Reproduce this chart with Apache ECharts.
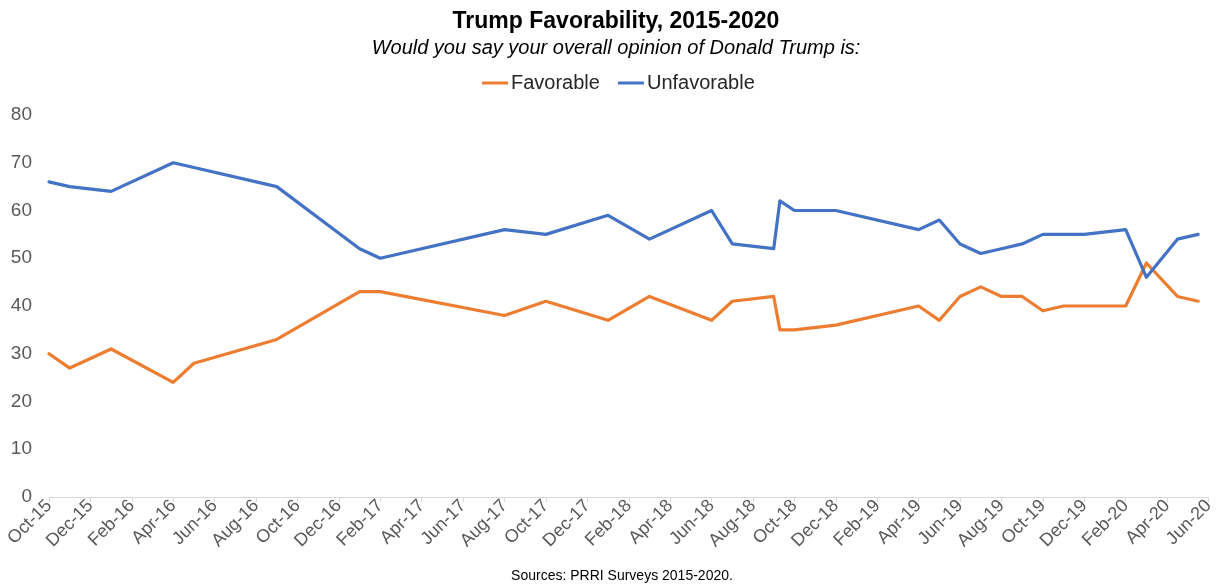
<!DOCTYPE html>
<html>
<head>
<meta charset="utf-8">
<title>Trump Favorability, 2015-2020</title>
<script src="https://cdn.jsdelivr.net/npm/echarts@6/dist/echarts.min.js"></script>
<style>
  html, body { margin: 0; padding: 0; background: #fff; }
  #chart { width: 1217px; height: 588px; }
</style>
</head>
<body>
<div id="chart"></div>
<script>
// Survey field dates and results (percent)
const surveyDates = [
  '2015-10-01', '2015-11-01', '2016-01-01', '2016-04-01', '2016-05-01', '2016-09-01',
  '2017-01-01', '2017-02-01', '2017-08-01', '2017-10-01', '2018-01-01', '2018-03-01',
  '2018-06-01', '2018-07-01', '2018-09-01', '2018-09-10', '2018-10-01', '2018-12-01',
  '2019-04-01', '2019-05-01', '2019-06-01', '2019-07-01', '2019-08-01', '2019-09-01',
  '2019-10-01', '2019-11-01', '2019-12-01', '2020-02-01', '2020-03-01', '2020-04-16',
  '2020-05-16'
];
const favorable = [
  30, 27, 31, 24, 28, 33,
  43, 43, 38, 41, 37, 42,
  37, 41, 42, 35, 35, 36,
  40, 37, 42, 44, 42, 42,
  39, 40, 40, 40, 49, 42,
  41
];
const unfavorable = [
  66, 65, 64, 70, 69, 65,
  52, 50, 56, 55, 59, 54,
  60, 53, 52, 62, 60, 60,
  56, 58, 53, 51, 52, 53,
  55, 55, 55, 56, 46, 54,
  55
];
const monthNames = ['Jan', 'Feb', 'Mar', 'Apr', 'May', 'Jun', 'Jul', 'Aug', 'Sep', 'Oct', 'Nov', 'Dec'];
const axisStart = { year: 2015, month: 9 };   // Oct-15
const axisMonths = 56;                          // through Jun-20

// Months elapsed since the start of the axis
function monthIndex(dateStr) {
  const [y, m, d] = dateStr.split('-').map(Number);
  return (y - axisStart.year) * 12 + (m - 1 - axisStart.month) + (d - 1) / 30;
}
function monthLabel(v) {
  const total = axisStart.year * 12 + axisStart.month + Math.round(v);
  return monthNames[total % 12] + '-' + String(Math.floor(total / 12)).slice(2);
}

const xs = surveyDates.map(monthIndex);
const favData = xs.map((x, i) => [x, favorable[i]]);
const unfavData = xs.map((x, i) => [x, unfavorable[i]]);

const font = 'Liberation Sans, Arial, Helvetica, sans-serif';
const chart = echarts.init(document.getElementById('chart'), null, { renderer: 'canvas' });
chart.setOption({
  animation: false,
  textStyle: { fontFamily: font },
  title: [{
    text: 'Trump Favorability, 2015-2020',
    subtext: 'Would you say your overall opinion of Donald Trump is:',
    left: 611,
    textAlign: 'center',
    top: 5,
    itemGap: 5,
    textStyle: { fontFamily: font, fontSize: 23, fontWeight: 'bold', color: '#000' },
    subtextStyle: { fontFamily: font, fontSize: 20, fontStyle: 'italic', color: '#000' }
  }, {
    text: 'Sources: PRRI Surveys 2015-2020.',
    left: 617,
    textAlign: 'center',
    bottom: 0,
    textStyle: { fontFamily: font, fontSize: 14, fontWeight: 'normal', color: '#000' }
  }],
  legend: {
    top: 68,
    left: 477,
    icon: 'rect',
    itemWidth: 26,
    itemHeight: 3,
    itemGap: 18,
    textStyle: { fontFamily: font, fontSize: 20, color: '#262626', padding: [0, 0, 0, -2] },
    data: ['Favorable', 'Unfavorable']
  },
  grid: { left: 49, right: 6, top: 115, bottom: 91, containLabel: false },
  xAxis: {
    type: 'value',
    min: 0,
    max: axisMonths,
    interval: 2,
    axisLine: { show: true, lineStyle: { color: '#d9d9d9', width: 1 } },
    axisTick: { show: true, length: 5, lineStyle: { color: '#d9d9d9' } },
    splitLine: { show: false },
    axisLabel: {
      rotate: 45,
      margin: 6,
      fontFamily: font,
      fontSize: 18,
      color: '#595959',
      showMinLabel: true,
      showMaxLabel: true,
      formatter: monthLabel
    }
  },
  yAxis: {
    type: 'value',
    min: 0,
    max: 80,
    interval: 10,
    axisLine: { show: false },
    axisTick: { show: false },
    splitLine: { show: false },
    axisLabel: { margin: 17, fontFamily: font, fontSize: 19, color: '#595959' }
  },
  series: [{
    name: 'Favorable',
    type: 'line',
    data: favData,
    showSymbol: false,
    symbol: 'none',
    color: '#ED7D31',
    lineStyle: { width: 3.2, color: '#ED7D31', cap: 'round', join: 'round' }
  }, {
    name: 'Unfavorable',
    type: 'line',
    data: unfavData,
    showSymbol: false,
    symbol: 'none',
    color: '#4472C4',
    lineStyle: { width: 3.2, color: '#4472C4', cap: 'round', join: 'round' }
  }]
});
</script>
</body>
</html>
